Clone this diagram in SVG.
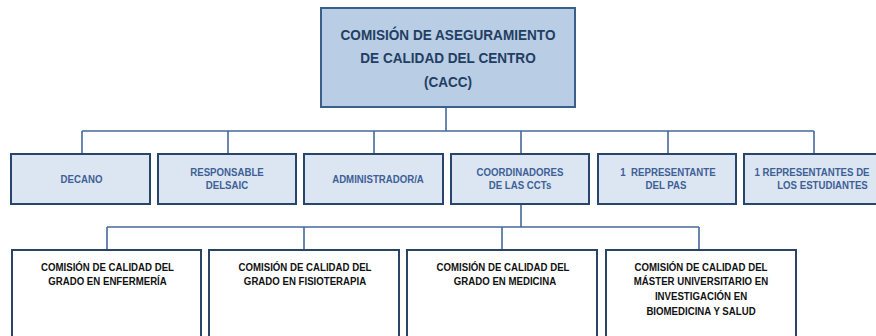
<svg xmlns="http://www.w3.org/2000/svg" width="876" height="336" viewBox="0 0 876 336">
<style>
.top{fill:#b9cde5;stroke:#3b5f8c;stroke-width:2}
.l2{fill:#dce6f2;stroke:#28456b;stroke-width:2}
.l3{fill:#ffffff;stroke:#2a4466;stroke-width:2}
.c{fill:none;stroke:#44699b;stroke-width:1.6}
text{font-family:"Liberation Sans",Arial,sans-serif;font-weight:bold;text-anchor:middle}
.tt{font-size:14px;fill:#233e62}
.t2{font-size:11.5px;fill:#3e6096}
.t3{font-size:11.5px;fill:#111111}
</style>
<rect width="876" height="336" fill="#ffffff"/>
<g id="connectors">
<path class="c" d="M446 107V131M82 131H814M82 131V154M228 131V154M374 131V154M521 131V154M668 131V154M814 131V154"/>
<path class="c" d="M521 204V227M107 227H699M107 227V250M304 227V250M502 227V250M699 227V250"/>
</g>
<g id="cacc">
<rect class="top" x="321" y="8" width="254" height="99"/>
<text class="tt" transform="translate(448,39.7) scale(0.97,1)">COMISIÓN DE ASEGURAMIENTO</text>
<text class="tt" transform="translate(448,63) scale(0.97,1)">DE CALIDAD DEL CENTRO</text>
<text class="tt" transform="translate(448,86.5) scale(0.97,1)">(CACC)</text>
</g>
<g id="decano">
<rect class="l2" x="11" y="154" width="139" height="50"/>
<text class="t2" transform="translate(81.5,182.5) scale(0.84,1)">DECANO</text>
</g>
<g id="responsable">
<rect class="l2" x="158" y="154" width="138" height="50"/>
<text class="t2" transform="translate(227,176) scale(0.84,1)">RESPONSABLE</text>
<text class="t2" transform="translate(227,189) scale(0.84,1)">DELSAIC</text>
</g>
<g id="administrador">
<rect class="l2" x="304" y="154" width="139" height="50"/>
<text class="t2" transform="translate(378,182.5) scale(0.84,1)">ADMINISTRADOR/A</text>
</g>
<g id="coordinadores">
<rect class="l2" x="451" y="154" width="138" height="50"/>
<text class="t2" transform="translate(520,176) scale(0.84,1)">COORDINADORES</text>
<text class="t2" transform="translate(520,189) scale(0.84,1)">DE LAS CCTs</text>
</g>
<g id="pas">
<rect class="l2" x="598" y="154" width="138" height="50"/>
<text class="t2" transform="translate(668,176) scale(0.84,1)" xml:space="preserve">1  REPRESENTANTE</text>
<text class="t2" transform="translate(666,189) scale(0.84,1)">DEL PAS</text>
</g>
<g id="estudiantes">
<rect class="l2" x="744" y="154" width="142" height="50"/>
<text class="t2" transform="translate(812,176) scale(0.84,1)">1 REPRESENTANTES DE</text>
<text class="t2" transform="translate(822.5,189) scale(0.84,1)">LOS ESTUDIANTES</text>
</g>
<g id="enfermeria">
<rect class="l3" x="12" y="250" width="189" height="100"/>
<text class="t3" transform="translate(107.5,270.5) scale(0.84,1)">COMISIÓN DE CALIDAD DEL</text>
<text class="t3" transform="translate(107.5,285) scale(0.84,1)">GRADO EN ENFERMERÍA</text>
</g>
<g id="fisioterapia">
<rect class="l3" x="209" y="250" width="190" height="100"/>
<text class="t3" transform="translate(305,270.5) scale(0.84,1)">COMISIÓN DE CALIDAD DEL</text>
<text class="t3" transform="translate(305,285) scale(0.84,1)">GRADO EN FISIOTERAPIA</text>
</g>
<g id="medicina">
<rect class="l3" x="407" y="250" width="190" height="100"/>
<text class="t3" transform="translate(503,270.5) scale(0.84,1)">COMISIÓN DE CALIDAD DEL</text>
<text class="t3" transform="translate(505,285) scale(0.84,1)">GRADO EN MEDICINA</text>
</g>
<g id="master">
<rect class="l3" x="606" y="250" width="190" height="100"/>
<text class="t3" transform="translate(701,270.5) scale(0.84,1)">COMISIÓN DE CALIDAD DEL</text>
<text class="t3" transform="translate(701,285) scale(0.84,1)">MÁSTER UNIVERSITARIO EN</text>
<text class="t3" transform="translate(701,300) scale(0.84,1)">INVESTIGACIÓN EN</text>
<text class="t3" transform="translate(701,314.5) scale(0.84,1)">BIOMEDICINA Y SALUD</text>
</g>
</svg>
